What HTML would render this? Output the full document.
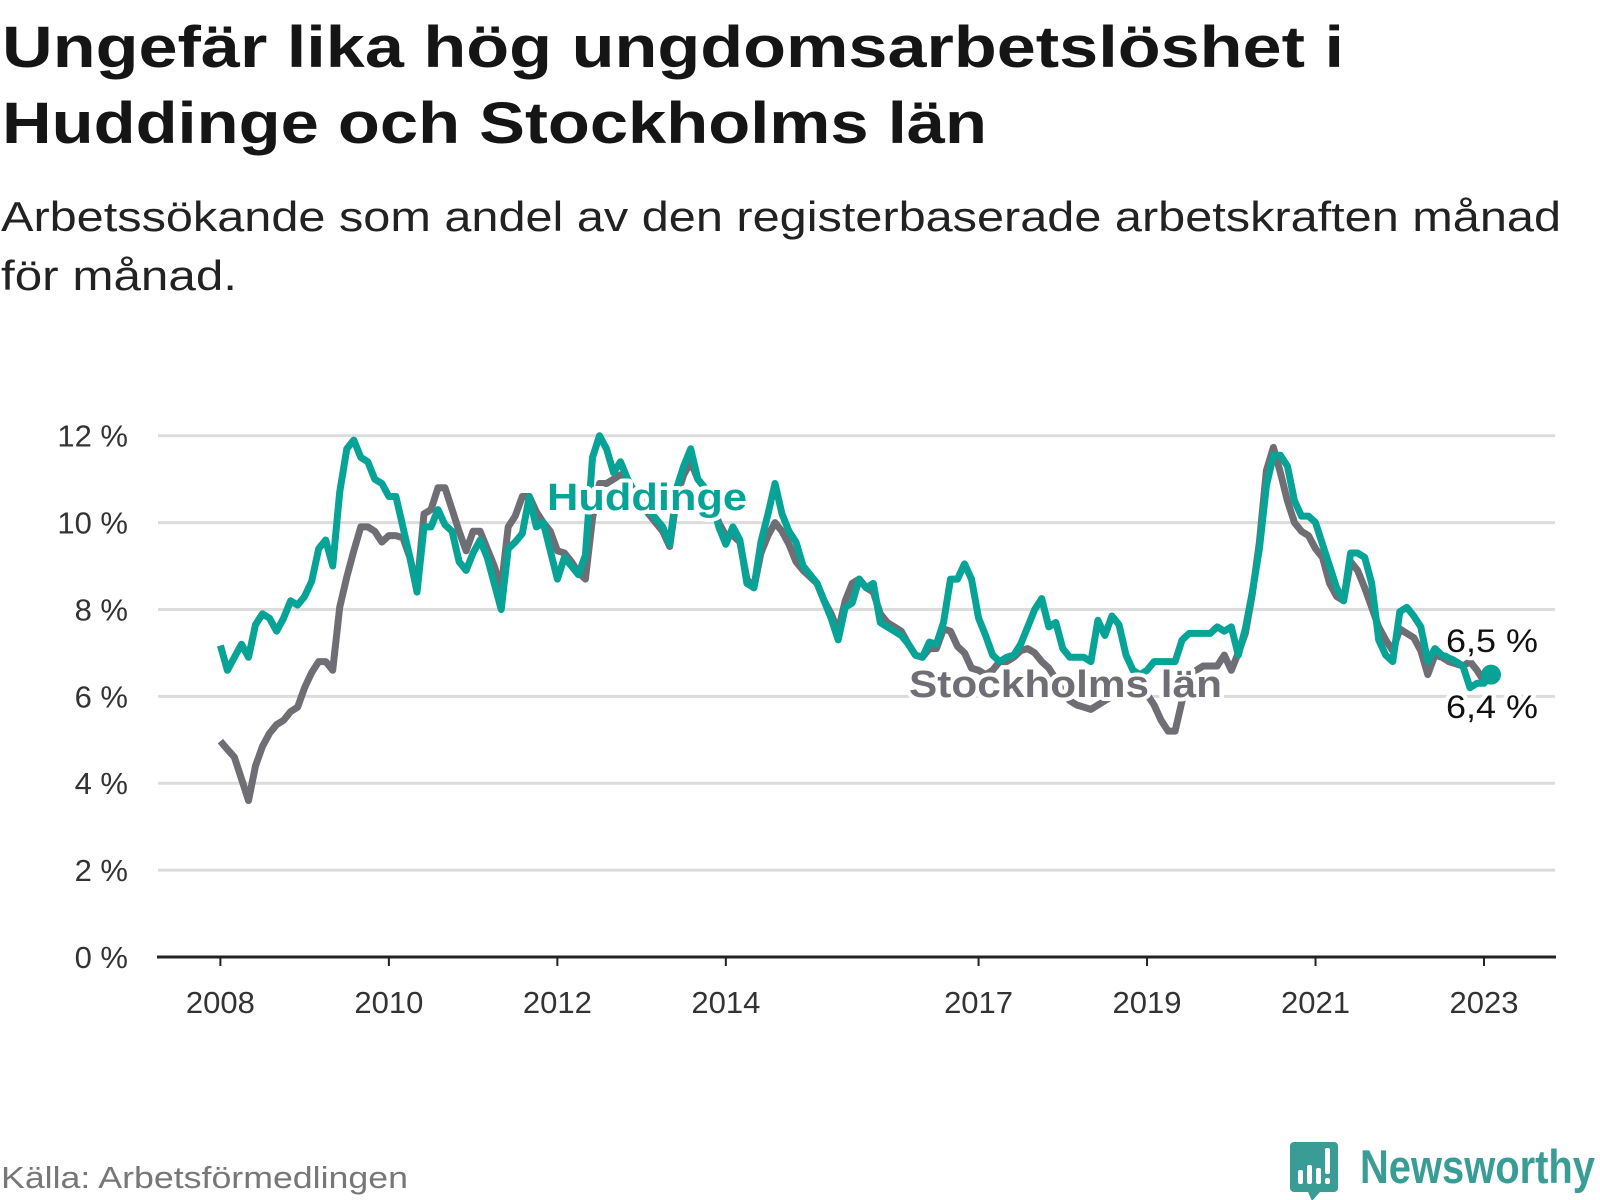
<!DOCTYPE html>
<html><head><meta charset="utf-8"><style>
html,body{margin:0;padding:0;background:#fff;}
svg{display:block;font-family:"Liberation Sans",sans-serif;}
</style></head><body>
<svg id="chart" width="1600" height="1200" viewBox="0 0 1600 1200" xmlns="http://www.w3.org/2000/svg">
<text x="2" y="67" font-size="58" font-weight="bold" fill="#151515" textLength="1342" lengthAdjust="spacingAndGlyphs">Ungefär lika hög ungdomsarbetslöshet i</text>
<text x="2" y="143" font-size="58" font-weight="bold" fill="#151515" textLength="985" lengthAdjust="spacingAndGlyphs">Huddinge och Stockholms län</text>
<text x="1" y="231" font-size="42" fill="#222" textLength="1560" lengthAdjust="spacingAndGlyphs">Arbetssökande som andel av den registerbaserade arbetskraften månad</text>
<text x="1" y="290" font-size="42" fill="#222" textLength="236" lengthAdjust="spacingAndGlyphs">för månad.</text>
<g id="grid"></g>
<g id="yaxis"></g>
<g id="xaxis"></g>
<g id="series"></g>
<g id="labels"></g>
<text x="1" y="1188" font-size="31" fill="#777" textLength="407" lengthAdjust="spacingAndGlyphs">Källa: Arbetsförmedlingen</text>
<g>
<path d="M1294 1142 h40 a4 4 0 0 1 4 4 v42 a4 4 0 0 1 -4 4 h-14 l-8 9 l-4 -9 h-14 a4 4 0 0 1 -4 -4 v-42 a4 4 0 0 1 4 -4z" fill="#3a9d95"/>
<rect x="1298" y="1170" width="5" height="14" rx="2" fill="#fff"/>
<rect x="1307" y="1165" width="5" height="19" rx="2" fill="#fff"/>
<rect x="1316" y="1168" width="5" height="16" rx="2" fill="#fff"/>
<rect x="1325" y="1148" width="5" height="26" rx="2" fill="#fff"/>
<rect x="1325" y="1178" width="5" height="6" rx="2" fill="#fff"/>
<text x="1360" y="1183" font-size="47" font-weight="bold" fill="#3a9d95" textLength="235" lengthAdjust="spacingAndGlyphs">Newsworthy</text>
</g>
</svg>
<script>
const yTicks = [0, 2, 4, 6, 8, 10, 12];
const yTickLabels = ["0 %", "2 %", "4 %", "6 %", "8 %", "10 %", "12 %"];
const xTickYears = [2008, 2010, 2012, 2014, 2017, 2019, 2021, 2023];
const startYear = 2008;
const huddinge = [7.17,6.6,6.9,7.2,6.9,7.65,7.9,7.8,7.5,7.8,8.2,8.1,8.3,8.65,9.4,9.6,9.0,10.7,11.7,11.9,
11.5,11.4,11.0,10.9,10.6,10.6,9.9,9.2,8.4,9.9,9.9,10.3,9.95,9.8,9.1,8.9,9.3,9.6,9.2,8.6,
8.0,9.4,9.55,9.75,10.6,9.9,10.0,9.35,8.7,9.2,9.0,8.8,9.25,11.5,12.0,11.7,11.15,11.4,11.0,10.7,
10.5,10.3,10.1,9.9,9.5,10.8,11.3,11.7,11.0,10.8,10.5,9.9,9.5,9.9,9.6,8.6,8.5,9.55,10.2,10.9,
10.2,9.8,9.55,9.0,8.8,8.6,8.2,7.8,7.3,8.05,8.15,8.7,8.5,8.6,7.7,7.6,7.5,7.4,7.2,6.95,
6.9,7.25,7.2,7.7,8.7,8.7,9.05,8.7,7.8,7.4,6.95,6.8,6.9,6.95,7.2,7.6,8.0,8.25,7.6,7.7,
7.1,6.9,6.9,6.9,6.8,7.75,7.4,7.85,7.65,6.95,6.6,6.5,6.6,6.8,6.8,6.8,6.8,7.3,7.45,7.45,
7.45,7.45,7.6,7.5,7.6,6.95,7.55,8.4,9.4,10.85,11.55,11.55,11.3,10.5,10.15,10.15,10.0,9.5,9.0,8.5,
8.2,9.3,9.3,9.2,8.6,7.3,6.95,6.8,7.95,8.05,7.85,7.6,6.8,7.1,6.95,6.9,6.8,6.7,6.2,6.3,
6.3,6.5];
const stockholm = [4.97,4.78,4.6,4.1,3.6,4.4,4.85,5.15,5.35,5.45,5.65,5.75,6.2,6.55,6.8,6.8,6.6,8.05,8.75,9.35,
9.9,9.9,9.8,9.55,9.7,9.7,9.65,9.2,8.5,10.2,10.3,10.8,10.8,10.3,9.8,9.35,9.8,9.8,9.4,9.0,
8.5,9.9,10.15,10.6,10.6,10.25,10.0,9.8,9.35,9.3,9.1,8.85,8.7,10.1,10.9,10.9,11.0,11.1,10.9,10.6,
10.4,10.2,10.0,9.8,9.45,10.6,11.1,11.4,11.0,10.8,10.5,10.0,9.7,9.7,9.55,8.7,8.5,9.3,9.7,10.0,
9.8,9.5,9.1,8.9,8.75,8.6,8.2,7.9,7.5,8.2,8.6,8.7,8.5,8.4,7.9,7.7,7.6,7.5,7.2,6.95,
6.9,7.1,7.1,7.55,7.5,7.15,7.0,6.65,6.6,6.5,6.6,6.8,6.8,6.9,7.05,7.1,7.0,6.8,6.65,6.4,
6.1,5.9,5.8,5.75,5.7,5.8,5.9,6.0,6.1,6.3,6.3,6.2,6.05,5.8,5.45,5.2,5.2,5.9,6.3,6.6,
6.7,6.7,6.7,6.95,6.6,7.0,7.45,8.35,9.55,11.2,11.73,11.15,10.5,10.0,9.8,9.7,9.4,9.2,8.6,8.3,
8.2,9.1,8.9,8.5,8.05,7.6,7.3,7.05,7.55,7.45,7.35,7.05,6.5,6.95,6.9,6.8,6.75,6.7,6.8,6.6,
6.35,6.4];
const endLabels = ["6,5 %", "6,4 %"];

const NS = "http://www.w3.org/2000/svg";
const X0 = 220.4, MONTH = 7.02, Y0 = 957, PERPCT = 43.44;
function xScale(monthIndex){ return X0 + monthIndex * MONTH; }
function yScale(v){ return Y0 - v * PERPCT; }
function mk(tag, attrs, parent){ const e = document.createElementNS(NS, tag); for (const k in attrs) e.setAttribute(k, attrs[k]); parent.appendChild(e); return e; }

const grid = document.getElementById('grid');
const yaxis = document.getElementById('yaxis');
yTicks.forEach((t, i) => {
  if (t > 0) {
    const l = mk('line', {x1:158, x2:1555, y1:yScale(t), y2:yScale(t), stroke:'#dcdcdc', 'stroke-width':3}, grid);
    
    
  }
  const tx = mk('text', {x:128, y:yScale(t)+11, 'text-anchor':'end', 'font-size':31, fill:'#333'}, yaxis);
  
  
  tx.textContent = yTickLabels[i];
});
const xaxis = document.getElementById('xaxis');
const axl = mk('line', {x1:157, x2:1556, y1:Y0, y2:Y0, stroke:'#222', 'stroke-width':3}, xaxis);


xTickYears.forEach(yr => {
  const x = xScale((yr - startYear) * 12);
  const tk = mk('line', {x1:x, x2:x, y1:Y0, y2:Y0+9, stroke:'#222', 'stroke-width':2}, xaxis);
  
  
  const tx = mk('text', {x:x, y:Y0+56, 'text-anchor':'middle', 'font-size':31, fill:'#333'}, xaxis);
  
  
  tx.textContent = yr;
});

const series = document.getElementById('series');
function path(vals){ return vals.map((v,i)=>(i?'L':'M')+xScale(i).toFixed(1)+' '+yScale(v).toFixed(1)).join(' '); }
const sp = mk('path', {d:path(stockholm), fill:'none', stroke:'#6f6e74', 'stroke-width':7, 'stroke-linejoin':'round'}, series);


const hp = mk('path', {d:path(huddinge), fill:'none', stroke:'#07a396', 'stroke-width':7, 'stroke-linejoin':'round'}, series);


const li = huddinge.length - 1;
const dot = mk('circle', {cx:xScale(li), cy:yScale(huddinge[li]), r:10, fill:'#07a396'}, series);



const labels = document.getElementById('labels');
function lab(txt, x, y, size, weight, color, name, len){
  const a = {x:x, y:y, 'font-size':size, 'font-weight':weight, fill:color, stroke:'#fff', 'stroke-width':8, 'stroke-linejoin':'round', 'paint-order':'stroke'};
  if (len) { a.textLength = len; a.lengthAdjust = 'spacingAndGlyphs'; }
  const t = mk('text', a, labels);
  
  
  t.textContent = txt;
}
lab('Huddinge', 547, 510, 38, 'bold', '#07a396', 'huddinge-label', 200);
lab('Stockholms län', 909, 697, 38, 'bold', '#6f6e74', 'stockholm-label', 313);
lab(endLabels[0], 1446, 652, 32, 'normal', '#111', 'huddinge-end-value', 92);
lab(endLabels[1], 1446, 718, 32, 'normal', '#111', 'stockholm-end-value', 92);
</script>
</body></html>
